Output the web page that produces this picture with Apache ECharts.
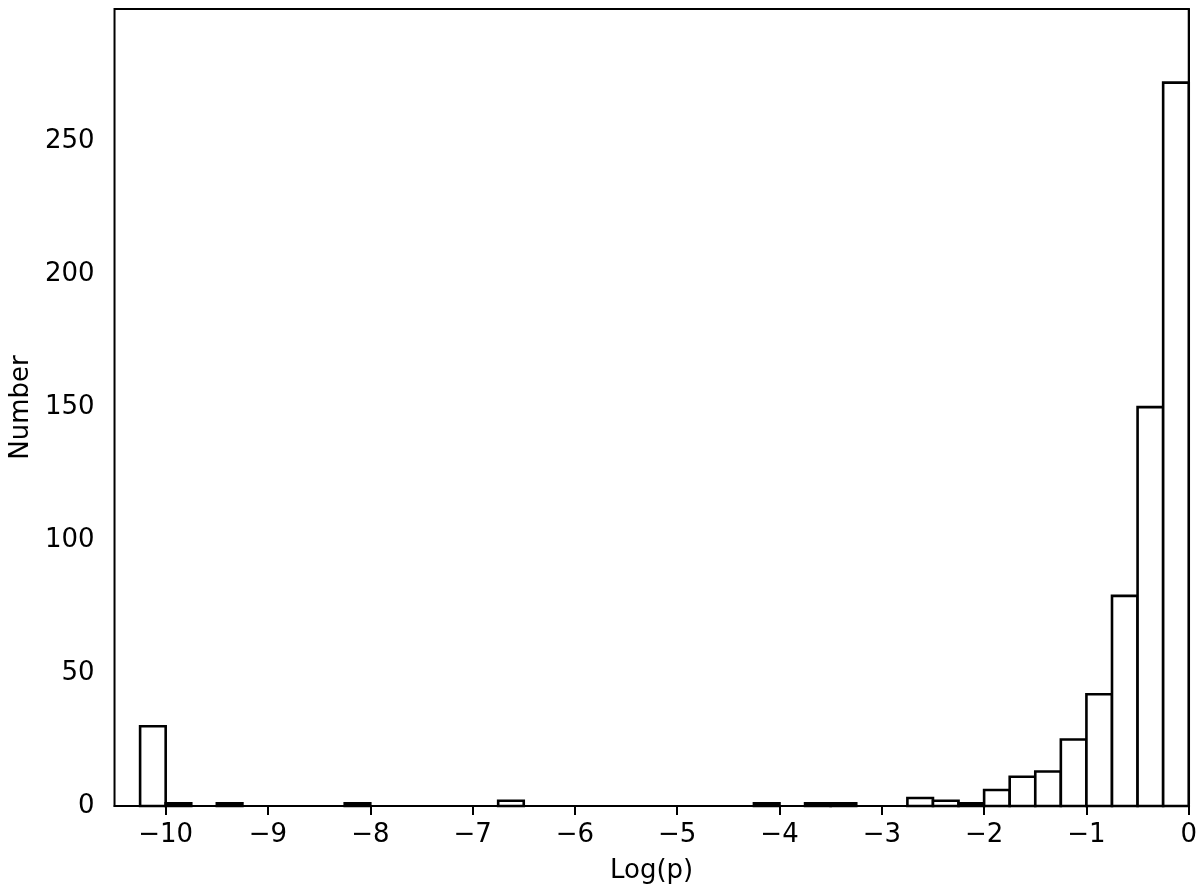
<!DOCTYPE html>
<html>
<head>
<meta charset="utf-8">
<script src="https://cdn.jsdelivr.net/npm/echarts@6/dist/echarts.min.js"></script>
<style>
  html, body { margin: 0; padding: 0; background: #fff; }
  #chart { width: 1200px; height: 893px; }
</style>
</head>
<body>
<div id="chart"></div>
<script>
// histogram of Log(p), bins of 0.25 starting at -10.25
var binStart = -10.25;
var binWidth = 0.25;
var counts = [
    30, 1, 0, 1, 0, 0, 0, 0, 1, 0,
    0, 0, 0, 0, 2, 0, 0, 0, 0, 0,
    0, 0, 0, 0, 1, 0, 1, 1, 0, 0,
    3, 2, 1, 6, 11, 13, 25, 42, 79, 150,
    272
];
var xTicks = [-10, -9, -8, -7, -6, -5, -4, -3, -2, -1, 0];
var yTicks = [0, 50, 100, 150, 200, 250];

var bars = [];
for (var i = 0; i < counts.length; i++)
{
    var lo = binStart + i * binWidth;
    bars.push([lo, lo + binWidth, counts[i]]);
}

function minus(v)
{
    return String(v).replace('-', '\u2212');
}

var font = 'DejaVu Sans';
var myChart = echarts.init(document.getElementById('chart'), null, {renderer: 'canvas'});
var option = {
    animation: false,
    backgroundColor: '#fff',
    grid: {
        left: 112, right: 11, top: 9, bottom: 87,
        show: true,
        borderColor: '#000',
        borderWidth: 2,
        backgroundColor: 'transparent'
    },
    xAxis: {
        type: 'value',
        min: -10.5,
        max: 0,
        name: 'Log(p)',
        nameLocation: 'middle',
        nameGap: 52,
        nameTextStyle: {fontFamily: font, fontSize: 26, color: '#000'},
        splitLine: {show: false},
        axisLine: {show: true, onZero: false, lineStyle: {color: '#000', width: 2}},
        axisTick: {show: true, length: 9, lineStyle: {color: '#000', width: 2}, customValues: xTicks},
        axisLabel: {
            fontFamily: font, fontSize: 26, color: '#000', margin: 16,
            customValues: xTicks,
            formatter: function (v) { return minus(v); }
        }
    },
    yAxis: {
        type: 'value',
        min: 0,
        max: 299.7,
        name: 'Number',
        nameLocation: 'middle',
        nameGap: 80,
        nameRotate: 90,
        nameTextStyle: {fontFamily: font, fontSize: 26, color: '#000'},
        splitLine: {show: false},
        axisLine: {show: true, lineStyle: {color: '#000', width: 2}},
        axisTick: {show: true, length: 9, lineStyle: {color: '#000', width: 2}, customValues: yTicks},
        axisLabel: {
            fontFamily: font, fontSize: 26, color: '#000', margin: 20,
            customValues: yTicks
        }
    },
    series: [
        {
            type: 'custom',
            data: bars,
            encode: {x: [0, 1], y: 2},
            renderItem: function (params, api)
            {
                var h = api.value(2);
                if (h <= 0)
                    return null;
                var p0 = api.coord([api.value(0), h]);
                var p1 = api.coord([api.value(1), 0]);
                return {
                    type: 'rect',
                    shape: {x: p0[0], y: p0[1], width: p1[0] - p0[0], height: p1[1] - p0[1]},
                    style: {fill: '#fff', stroke: '#000', lineWidth: 2.6}
                };
            }
        }
    ]
};
myChart.setOption(option);
</script>
</body>
</html>
